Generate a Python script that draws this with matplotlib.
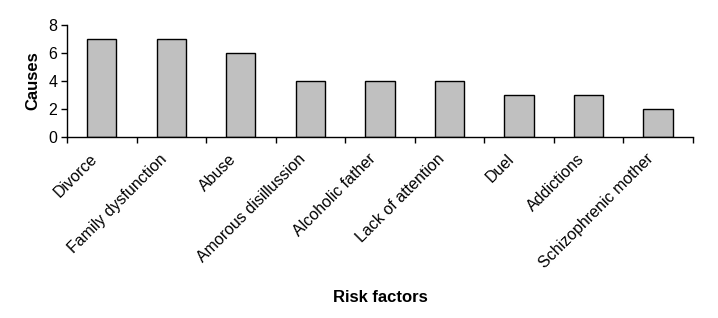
import numpy as np
import matplotlib.pyplot as plt
from matplotlib.transforms import ScaledTranslation

plt.rcParams['font.family'] = ['Liberation Sans', 'DejaVu Sans']

# data
factors = ["Divorce", "Family dysfunction", "Abuse", "Amorous disillussion",
           "Alcoholic father", "Lack of attention", "Duel", "Addictions",
           "Schizophrenic mother"]
causes = [7, 7, 6, 4, 4, 4, 3, 3, 2]
yticks = [0, 2, 4, 6, 8]

fig = plt.figure(figsize=(7.18, 3.18), dpi=100)
ax = fig.add_axes([0.0933, 0.569, 0.8717, 0.352])

x = np.arange(len(factors))
ax.bar(x, causes, width=0.42, color="#c0c0c0", edgecolor="black", linewidth=1)

ax.set_xlim(-0.5, len(factors) - 0.5)
ax.set_ylim(0, 8)
ax.set_yticks(yticks)
ax.tick_params(axis="y", direction="out", length=4, width=1, labelsize=11.5, pad=3)

ax.set_xticks(x)
ax.set_xticklabels(factors, rotation=45, ha="right", va="center",
                   rotation_mode="anchor", fontsize=11.5)
ax.tick_params(axis="x", which="major", length=0, pad=14)
# nudge labels a little left, like the original
shift = ScaledTranslation(-5 / 72, 0, fig.dpi_scale_trans)
for lbl in ax.get_xticklabels():
    lbl.set_transform(lbl.get_transform() + shift)
ax.set_xticks(np.arange(len(factors) + 1) - 0.5, minor=True)
ax.tick_params(axis="x", which="minor", direction="out", length=4, width=1)

for s in ["top", "right"]:
    ax.spines[s].set_visible(False)
for s in ["left", "bottom"]:
    ax.spines[s].set_linewidth(1)

ax.set_ylabel("Causes", fontsize=12, fontweight="bold", labelpad=6)
fig.text(0.53, 0.066, "Risk factors", fontsize=12, fontweight="bold",
         ha="center", va="center")

fig.savefig("out.png", dpi=100)
